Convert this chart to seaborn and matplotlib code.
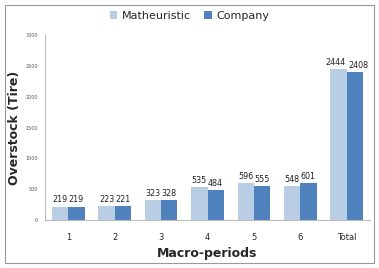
import matplotlib
matplotlib.use("Agg")
import matplotlib.pyplot as plt
import seaborn as sns
import pandas as pd
from matplotlib.patches import Rectangle

categories = ["1", "2", "3", "4", "5", "6", "Total"]
matheuristic = [219, 223, 323, 535, 596, 548, 2444]
company = [219, 221, 328, 484, 555, 601, 2408]
series_names = ["Matheuristic", "Company"]

df = pd.DataFrame({
    "period": categories * 2,
    "value": matheuristic + company,
    "series": [series_names[0]] * len(categories) + [series_names[1]] * len(categories),
})

sns.set_style("white")
plt.rcParams['font.family'] = ['DejaVu Sans']

fig = plt.figure(figsize=(3.79, 2.68), dpi=100)
ax = fig.add_axes([0.119, 0.179, 0.857, 0.69])

palette = {"Matheuristic": "#B9CDE5", "Company": "#4F81BD"}
sns.barplot(data=df, x="period", y="value", hue="series", palette=palette,
            order=categories, hue_order=series_names, width=0.7, ax=ax,
            saturation=1, edgecolor="none")

for i, cont in enumerate(ax.containers):
    texts = ax.bar_label(cont, fontsize=5.8, padding=1.5, color="#222222")
    # nudge the Total labels apart so they don't collide
    last = texts[-1]
    x0, y0 = last.xyann
    last.xyann = (x0 + (-2.5 if i == 0 else 2.5), y0)

ax.set_ylim(0, 3000)
ax.set_yticks(range(0, 3001, 500))
ax.tick_params(axis="y", labelsize=3.5, colors="#555555", length=0, pad=5)
ax.tick_params(axis="x", labelsize=6, length=0, pad=9)
ax.set_xlim(-0.5, 6.5)
ax.set_ylabel("Overstock (Tire)", fontsize=9, fontweight="bold", labelpad=3)
ax.set_xlabel("Macro-periods", fontsize=9, fontweight="bold", labelpad=4)

for s in ["top", "right"]:
    ax.spines[s].set_visible(False)
ax.spines["left"].set_color("#BBBBBB")
ax.spines["bottom"].set_color("#BBBBBB")
ax.spines["left"].set_linewidth(0.8)
ax.spines["bottom"].set_linewidth(0.8)

leg = ax.legend(loc="upper center", bbox_to_anchor=(0.445, 1.185), ncol=2, frameon=False,
                fontsize=8, handlelength=0.7, handleheight=0.7, columnspacing=1.2,
                handletextpad=0.4)

fig.patches.append(Rectangle((0.013, 0.018), 0.974, 0.962, transform=fig.transFigure,
                             fill=False, edgecolor="#999999", linewidth=0.8))

fig.savefig("out.png", dpi=100)
